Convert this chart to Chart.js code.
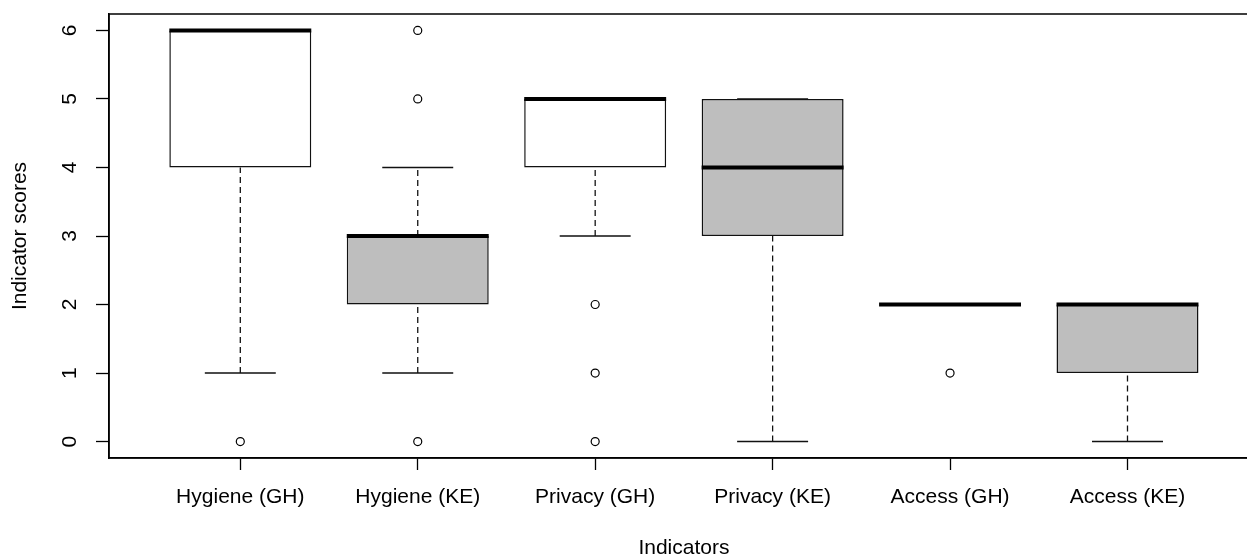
<!DOCTYPE html>
<html>
<head>
  <title>Indicator scores</title>
  <meta charset="utf-8">
  <script src="https://cdn.jsdelivr.net/npm/chart.js"></script>
  <style>
    body { margin: 0; overflow: hidden; background: #fff; }
    .chart-container { position: relative; width: 1264px; height: 559px; }
  </style>
</head>
<body>
  <div class="chart-container">
    <canvas id="boxChart"></canvas>
  </div>

  <script>
    // Data
    var categories = ['Hygiene (GH)', 'Hygiene (KE)', 'Privacy (GH)', 'Privacy (KE)', 'Access (GH)', 'Access (KE)'];
    var country = ['GH', 'KE', 'GH', 'KE', 'GH', 'KE'];
    var lowerWhisker = [1, 1, 3, 0, 2, 0];
    var q1 = [4, 2, 4, 3, 2, 1];
    var median = [6, 3, 5, 4, 2, 2];
    var q3 = [6, 3, 5, 5, 2, 2];
    var upperWhisker = [6, 4, 5, 5, 2, 2];
    var outliers = [[0], [0, 5, 6], [0, 1, 2], [], [1], []];
    var yTicks = [0, 1, 2, 3, 4, 5, 6];

    var fillByCountry = { GH: '#ffffff', KE: '#bebebe' };
    var boxHalf = 0.4;   // box width 0.8
    var capHalf = 0.2;   // staple half the box

    // Build datasets from the arrays
    var boxData = [], medianData = [], whiskerData = [], capData = [], outlierData = [];
    for (var i = 0; i < categories.length; i++) {
      var x = i + 1;
      boxData.push({ x: x, y: [q1[i], q3[i]] });

      medianData.push({ x: x - boxHalf, y: median[i] }, { x: x + boxHalf, y: median[i] }, { x: x + 0.5, y: null });

      whiskerData.push({ x: x, y: lowerWhisker[i] }, { x: x, y: q1[i] }, { x: x, y: null });
      whiskerData.push({ x: x, y: q3[i] }, { x: x, y: upperWhisker[i] }, { x: x, y: null });

      capData.push({ x: x - capHalf, y: lowerWhisker[i] }, { x: x + capHalf, y: lowerWhisker[i] }, { x: x, y: null });
      capData.push({ x: x - capHalf, y: upperWhisker[i] }, { x: x + capHalf, y: upperWhisker[i] }, { x: x, y: null });

      outliers[i].forEach(function (v) { outlierData.push({ x: x, y: v }); });
    }

    // Frame around the plot region, like R's box()
    var framePlugin = {
      id: 'frame',
      afterDraw: function (chart) {
        var a = chart.chartArea, ctx = chart.ctx;
        ctx.save();
        ctx.strokeStyle = '#000';
        ctx.lineWidth = 1.5;
        ctx.strokeRect(a.left, a.top, a.right - a.left, a.bottom - a.top);
        ctx.restore();
      }
    };

    Chart.defaults.font.family = "'Liberation Sans', Arial, sans-serif";
    Chart.defaults.color = '#000';

    new Chart(document.getElementById('boxChart'), {
      type: 'bar',
      data: {
        datasets: [
          {
            type: 'bar',
            data: boxData,
            backgroundColor: country.map(function (c) { return fillByCountry[c]; }),
            borderColor: '#111',
            borderWidth: 1.5,
            borderSkipped: false,
            barPercentage: 0.8,
            categoryPercentage: 1,
            grouped: false,
            order: 5
          },
          {
            // whiskers and staples sit under the boxes, as in R
            type: 'line',
            data: whiskerData,
            borderColor: '#111',
            borderWidth: 1.3,
            borderDash: [6, 4],
            pointRadius: 0,
            spanGaps: false,
            order: 7
          },
          {
            type: 'line',
            data: capData,
            borderColor: '#111',
            borderWidth: 1.5,
            pointRadius: 0,
            spanGaps: false,
            order: 6
          },
          {
            type: 'line',
            data: medianData,
            borderColor: '#000',
            borderWidth: 4,
            borderCapStyle: 'butt',
            pointRadius: 0,
            spanGaps: false,
            order: 1
          },
          {
            type: 'scatter',
            data: outlierData,
            pointStyle: 'circle',
            pointRadius: 4,
            pointBackgroundColor: '#fff',
            pointBorderColor: '#000',
            pointBorderWidth: 1.2,
            order: 0
          }
        ]
      },
      options: {
        responsive: true,
        maintainAspectRatio: false,
        animation: false,
        layout: { padding: { top: 14, right: 0, left: 0, bottom: 0 } },
        plugins: {
          legend: { display: false },
          tooltip: { enabled: false }
        },
        scales: {
          x: {
            type: 'linear',
            offset: false,
            min: 0.26,
            max: 6.74,
            afterBuildTicks: function (scale) {
              scale.ticks = categories.map(function (c, i) { return { value: i + 1 }; });
            },
            afterFit: function (scale) {
              scale.height = 101;
              scale.paddingLeft = 0;
              scale.paddingRight = 0;
            },
            ticks: {
              font: { size: 21 },
              padding: 15,
              maxRotation: 0,
              autoSkip: false,
              callback: function (v) { return categories[Math.round(v) - 1]; }
            },
            grid: { offset: false, drawOnChartArea: false, drawTicks: true, tickLength: 12, color: '#000', tickWidth: 1.3 },
            border: { display: true, color: '#000', width: 1.5 },
            title: {
              display: true,
              text: 'Indicators',
              font: { size: 21, lineHeight: 1 },
              padding: { top: 0, bottom: 0 }
            }
          },
          y: {
            min: -0.24,
            max: 6.24,
            afterBuildTicks: function (scale) {
              scale.ticks = yTicks.map(function (v) { return { value: v }; });
            },
            afterFit: function (scale) {
              scale.width = 109;
              scale.paddingTop = 0;
              scale.paddingBottom = 0;
            },
            ticks: {
              font: { size: 21 },
              minRotation: 90,
              maxRotation: 90,
              crossAlign: 'center',
              padding: 20
            },
            grid: { drawOnChartArea: false, drawTicks: true, tickLength: 13, color: '#000', tickWidth: 1.3 },
            border: { display: true, color: '#000', width: 1.5 },
            title: {
              display: true,
              text: 'Indicator scores',
              font: { size: 21, lineHeight: 1 },
              padding: { top: 9.5, bottom: 0 }
            }
          }
        }
      },
      plugins: [framePlugin]
    });
  </script>
</body>
</html>
